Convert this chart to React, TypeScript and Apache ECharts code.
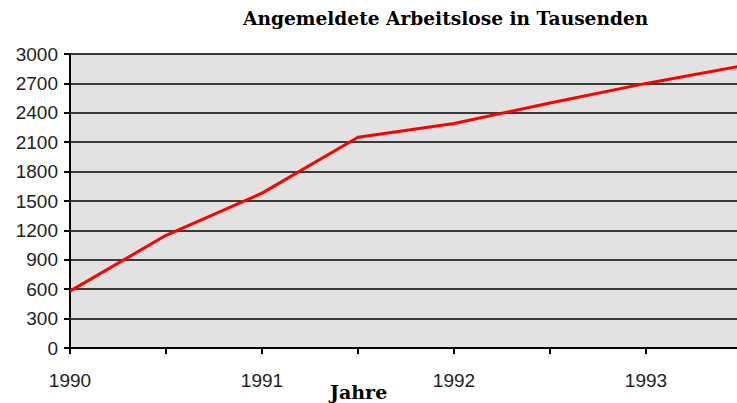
import React, { useEffect, useRef } from "react";
import * as echarts from "echarts";

const categories = ["1990", "1990.5", "1991", "1991.5", "1992", "1992.5", "1993", "1993.5"];
const tickLabels = ["1990", "", "1991", "", "1992", "", "1993", ""];
const unemployed = [580, 1150, 1580, 2150, 2290, 2500, 2700, 2880];
const yMin = 0;
const yMax = 3000;
const yInterval = 300;
const titleText = "Angemeldete Arbeitslose in Tausenden";
const xAxisName = "Jahre";

export default function App() {
  const ref = useRef<HTMLDivElement>(null);
  useEffect(() => {
    document.body.style.margin = "0";
    const chart = echarts.init(ref.current!, undefined, { renderer: "svg" });
    chart.setOption({
      animation: false,
      backgroundColor: "#ffffff",
      grid: {
        left: 70,
        width: 672,
        top: 54,
        height: 294,
        outerBoundsMode: "none",
        containLabel: false,
        show: true,
        backgroundColor: "#e2e2e2",
        borderWidth: 0,
      },
      graphic: [
        {
          type: "text",
          left: 243,
          top: 9,
          style: {
            text: titleText,
            font: "bold 18.6px 'DejaVu Serif', serif",
            fill: "#000",
          },
        },
        {
          type: "text",
          left: 330,
          top: 382,
          style: {
            text: xAxisName,
            font: "bold 19px 'DejaVu Serif', serif",
            fill: "#000",
          },
        },
      ],
      xAxis: {
        type: "category",
        data: categories,
        boundaryGap: false,
        axisLine: { show: true, lineStyle: { color: "#000", width: 2 } },
        axisTick: { show: true, interval: 0, length: 6, lineStyle: { color: "#000", width: 2 } },
        axisLabel: {
          interval: 0,
          margin: 23,
          color: "#222",
          fontFamily: "'Liberation Sans', Arial, sans-serif",
          fontSize: 19,
          formatter: (_v: string, i: number) => tickLabels[i],
        },
        splitLine: { show: false },
      },
      yAxis: {
        type: "value",
        min: yMin,
        max: yMax,
        interval: yInterval,
        axisLine: { show: true, lineStyle: { color: "#000", width: 2 } },
        axisTick: { show: true, length: 6, lineStyle: { color: "#000", width: 2 } },
        axisLabel: {
          margin: 12,
          color: "#222",
          fontFamily: "'Liberation Sans', Arial, sans-serif",
          fontSize: 19,
          formatter: (v: number) => String(v),
        },
        splitLine: { show: true, lineStyle: { color: "#3a3a3a", width: 2 } },
      },
      series: [
        {
          type: "line",
          data: unemployed,
          symbol: "none",
          lineStyle: { color: "#ff0000", width: 3 },
        },
      ],
    });
    return () => chart.dispose();
  }, []);
  return <div ref={ref} style={{ width: 737, height: 403 }} />;
}
